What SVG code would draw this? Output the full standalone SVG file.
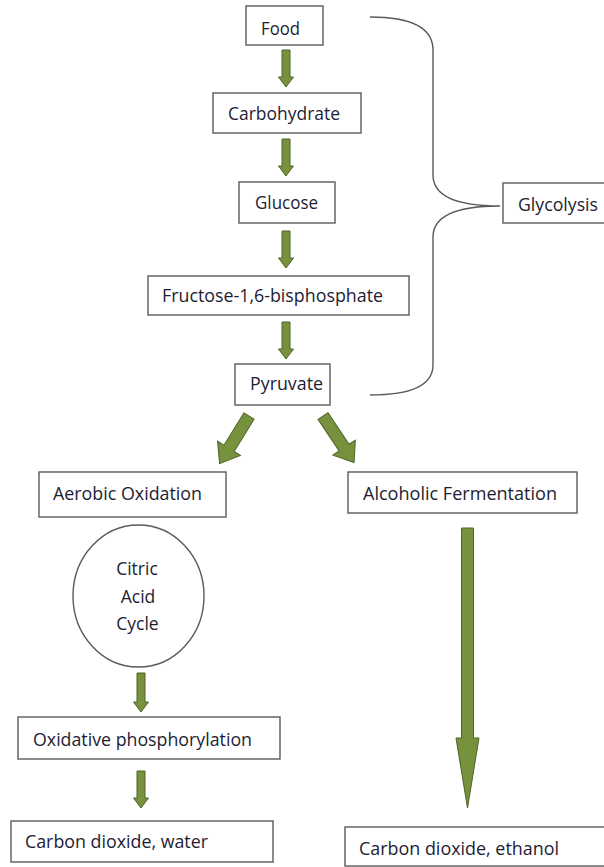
<svg xmlns="http://www.w3.org/2000/svg" width="604" height="867" viewBox="0 0 604 867">
<style>
.box{fill:#fff;stroke:#5a5a5a;stroke-width:1.4}
.t{font-family:"Open Sans","Liberation Sans",sans-serif;font-size:17.5px;fill:#1d1d33}
.arr{fill:#76923c;stroke:#4f6228;stroke-width:1}
.brace{fill:none;stroke:#5a5a5a;stroke-width:1.4}
</style>
<defs>
<polygon id="diag" points="-6,0 6,0 6,38 13.5,38 0,56 -13.5,38 -6,38"/>
</defs>
<rect width="604" height="867" fill="#fff"/>
<g id="connectors">
<polygon class="arr" points="282,50 290,50 290,77 293.5,77 286,87 278.5,77 282,77"/>
<polygon class="arr" points="282,139 290,139 290,166 293.5,166 286,176 278.5,166 282,166"/>
<polygon class="arr" points="282,231 290,231 290,258 293.5,258 286,268 278.5,258 282,258"/>
<polygon class="arr" points="282,322 290,322 290,349 293.5,349 286,359 278.5,349 282,349"/>
<use href="#diag" class="arr" transform="translate(249,416) rotate(31.7)"/>
<use href="#diag" class="arr" transform="translate(323,416) rotate(-33.7)"/>
<polygon class="arr" points="137,673 145,673 145,702 148.5,702 141,712 133.5,702 137,702"/>
<polygon class="arr" points="137,771 145,771 145,798 148.5,798 141,808 133.5,798 137,798"/>
<polygon class="arr" points="461.5,528 473.5,528 473.5,738 479,738 467.5,808 456,738 461.5,738"/>
<path class="brace" d="M370,17 C412,17 433,28 433,50 L433,175 C433,195 455,206 500,206 C455,206 433,217 433,237 L433,365 C433,385 412,395 370,395"/>
</g>
<g id="food"><rect class="box" x="246" y="6" width="77" height="39"/><text class="t" x="261" y="35" textLength="39" lengthAdjust="spacingAndGlyphs">Food</text></g>
<g id="carbohydrate"><rect class="box" x="213" y="93" width="148" height="40"/><text class="t" x="228" y="120" textLength="112" lengthAdjust="spacingAndGlyphs">Carbohydrate</text></g>
<g id="glucose"><rect class="box" x="239" y="182" width="96" height="41"/><text class="t" x="255" y="209" textLength="63" lengthAdjust="spacingAndGlyphs">Glucose</text></g>
<g id="fructose"><rect class="box" x="148" y="276" width="261" height="39"/><text class="t" x="162" y="302" textLength="221" lengthAdjust="spacingAndGlyphs">Fructose-1,6-bisphosphate</text></g>
<g id="pyruvate"><rect class="box" x="235" y="364" width="95" height="41"/><text class="t" x="250" y="390" textLength="73" lengthAdjust="spacingAndGlyphs">Pyruvate</text></g>
<g id="glycolysis"><rect class="box" x="503" y="183" width="110" height="40"/><text class="t" x="518" y="211" textLength="80" lengthAdjust="spacingAndGlyphs">Glycolysis</text></g>
<g id="aerobic"><rect class="box" x="39" y="472" width="187" height="45"/><text class="t" x="53" y="500" textLength="149" lengthAdjust="spacingAndGlyphs">Aerobic Oxidation</text></g>
<g id="alcoholic"><rect class="box" x="348" y="472" width="229" height="41"/><text class="t" x="363" y="500" textLength="194" lengthAdjust="spacingAndGlyphs">Alcoholic Fermentation</text></g>
<g id="citric"><ellipse class="box" cx="138.5" cy="596" rx="65.5" ry="71"/>
<text class="t" x="137" y="575" text-anchor="middle">Citric</text>
<text class="t" x="138" y="603" text-anchor="middle">Acid</text>
<text class="t" x="137.5" y="630" text-anchor="middle">Cycle</text></g>
<g id="oxidative"><rect class="box" x="18" y="717" width="262" height="42"/><text class="t" x="33" y="746" textLength="219" lengthAdjust="spacingAndGlyphs">Oxidative phosphorylation</text></g>
<g id="water"><rect class="box" x="11" y="821" width="262" height="41"/><text class="t" x="25" y="848" textLength="183" lengthAdjust="spacingAndGlyphs">Carbon dioxide, water</text></g>
<g id="ethanol"><rect class="box" x="345" y="827" width="270" height="39"/><text class="t" x="359" y="855" textLength="200" lengthAdjust="spacingAndGlyphs">Carbon dioxide, ethanol</text></g>
</svg>
